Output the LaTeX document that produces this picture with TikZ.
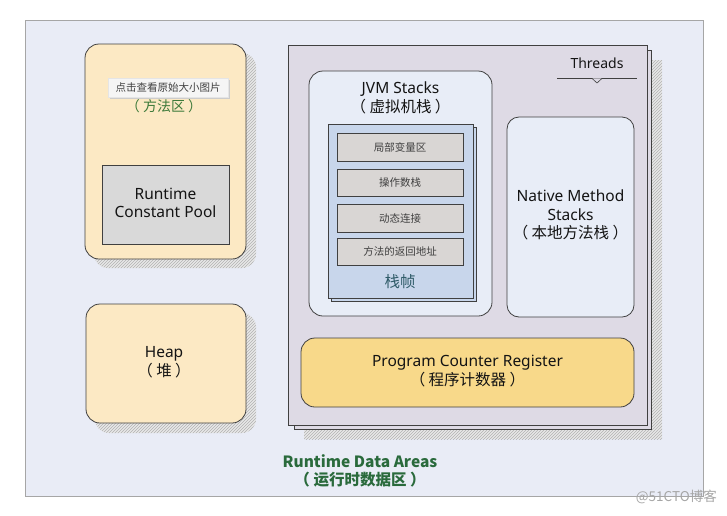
\documentclass[tikz,border=0pt]{standalone}
\usepackage{fontspec}
\setmainfont{Noto Sans}
\newfontfamily\cjk{Noto Sans CJK SC}
\usetikzlibrary{patterns}
\definecolor{bgc}{HTML}{E9ECF6}
\definecolor{methodc}{HTML}{FCE9C4}
\definecolor{pcc}{HTML}{F8D98A}
\definecolor{stackc}{HTML}{E8EDF7}
\definecolor{threadc}{HTML}{DEDAE5}
\definecolor{framec}{HTML}{C8D6EB}
\definecolor{cellc}{HTML}{D9D6D4}
\definecolor{poolc}{HTML}{D9D9D9}
\definecolor{greentxt}{HTML}{3D7A3A}
\definecolor{titlegreen}{HTML}{2A6A3C}
\definecolor{framelabel}{HTML}{2F5B68}
\definecolor{linec}{HTML}{404040}
\tikzset{
  rbox/.style={draw=linec, line width=0.8pt, rounded corners=14pt, inner sep=0pt},
  sqbox/.style={draw=linec, line width=0.8pt, inner sep=0pt},
  hatch/.style={fill=gray!18, postaction={pattern=north east lines, pattern color=gray!60}},
  txt/.style={text=black!92, align=center, inner sep=0pt, font=\fontsize{15.5}{18.5}\selectfont},
  small/.style={text=black!75, align=center, inner sep=0pt, font=\cjk\fontsize{10.5}{12}\selectfont},
}
\begin{document}
\begin{tikzpicture}[x=1pt,y=-1pt]
\useasboundingbox (0,0) rectangle (727,515);
\fill[white] (0,0) rectangle (727,515);
\node[sqbox, draw=gray!70, fill=bgc, minimum width=678pt, minimum height=476pt, line width=0.6pt] (frame) at (364,258) {};

% method area
\fill[hatch, rounded corners=14pt] (94,53) rectangle (256,268);
\node[rbox, fill=methodc, minimum width=161pt, minimum height=215pt] (method) at (165.5,151.5) {};
\fill[gray!40] (110,80) rectangle (230,99);
\node[small, fill=gray!8, minimum width=120pt, minimum height=19pt, draw=gray!20, line width=0.3pt] (hint) at (168,87.5) {点击查看原始大小图片};
\node[txt, text=greentxt, font=\cjk\fontsize{14}{17}\selectfont] (methodlbl) at (164,106) {（ 方法区 ）};
\node[sqbox, fill=poolc, minimum width=127pt, minimum height=79pt] (pool) at (165.5,204.5) {};
\node[txt] (pooltxt) at (165.5,203) {Runtime\\Constant Pool};

% heap
\fill[hatch, rounded corners=14pt] (95,313) rectangle (256,433);
\node[rbox, fill=methodc, minimum width=160pt, minimum height=119pt] (heap) at (166,363.5) {};
\node[txt] (heaptxt) at (164,362) {Heap\\{\cjk （ 堆 ）}};

% threads
\fill[hatch] (304,60) rectangle (662,439);
\node[sqbox, fill=threadc, minimum width=357pt, minimum height=379pt] (thread2) at (472.5,239.5) {};
\node[sqbox, fill=threadc, minimum width=359pt, minimum height=380pt] (threads) at (467.5,235) {};
\node[txt, font=\fontsize{14}{16}\selectfont] (thrlbl) at (597,63) {Threads};
\coordinate (tl) at (557,78);
\coordinate (tr) at (637,78);
\draw[linec, line width=0.8pt] (tl) -- (tr);
\draw[linec, line width=0.6pt, fill=threadc] (592,78.4) -- (597,83) -- (602,78.4);

% JVM stacks
\node[rbox, fill=stackc, minimum width=183pt, minimum height=245pt] (jvm) at (400.5,193.5) {};
\node[txt] (jvmtxt) at (400.5,98) {JVM Stacks\\{\cjk （ 虚拟机栈 ）}};
\node[sqbox, fill=framec, minimum width=145pt, minimum height=174pt, line width=0.6pt] (frameback) at (403.5,214) {};
\node[sqbox, fill=framec, minimum width=145pt, minimum height=174pt, line width=0.6pt] (sframe) at (400.5,211) {};
\node[sqbox, fill=cellc, minimum width=126pt, minimum height=28pt, line width=0.6pt] (c1) at (400,147.5) {};
\node[sqbox, fill=cellc, minimum width=126pt, minimum height=27pt, line width=0.6pt] (c2) at (400,182.5) {};
\node[sqbox, fill=cellc, minimum width=126pt, minimum height=28pt, line width=0.6pt] (c3) at (400,218) {};
\node[sqbox, fill=cellc, minimum width=126pt, minimum height=27pt, line width=0.6pt] (c4) at (400,251.5) {};
\node[small] at (c1) {局部变量区};
\node[small] at (c2) {操作数栈};
\node[small] at (c3) {动态连接};
\node[small] at (c4) {方法的返回地址};
\node[txt, text=framelabel, font=\cjk\fontsize{15.5}{17}\selectfont] (framelbl) at (400,282) {栈帧};

% native
\node[rbox, rounded corners=12pt, fill=stackc, minimum width=127pt, minimum height=200pt] (native) at (570.5,217) {};
\node[txt] (nativetxt) at (570.5,215) {Native Method\\Stacks\\{\cjk （ 本地方法栈 ）}};

% PC register
\node[rbox, fill=pcc, minimum width=333pt, minimum height=69pt] (pc) at (467.5,372.5) {};
\node[txt] (pctxt) at (467.5,371) {Program Counter Register\\{\cjk （ 程序计数器 ）}};

% title
\node[txt, text=titlegreen, font=\cjk\bfseries\fontsize{15.5}{18}\selectfont] (title) at (360,471) {Runtime Data Areas\\（ 运行时数据区 ）};

% watermark
\node[txt, text=gray!70, font=\cjk\fontsize{13.5}{15}\selectfont, anchor=east] (wm) at (717,497) {@51CTO博客};
\end{tikzpicture}
\end{document}
